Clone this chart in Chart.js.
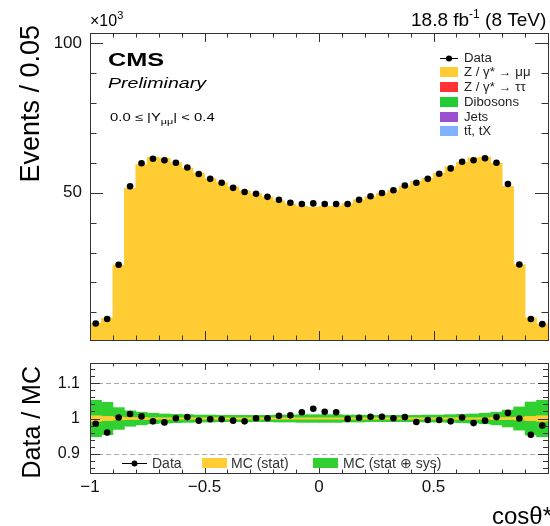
<!DOCTYPE html>
<html>
<head>
<meta charset="utf-8">
<script src="https://cdn.jsdelivr.net/npm/chart.js@4.4.0/dist/chart.umd.min.js"></script>
<style>
  html, body { margin: 0; padding: 0; background: #fff; overflow: hidden; }
  #wrap { position: relative; width: 550px; height: 526px; overflow: hidden; }
  #main { position: absolute; left: 0; top: 0; }
  #ratio { position: absolute; left: 0; top: 350px; }
</style>
</head>
<body>
<div id="wrap">
  <canvas id="main" width="552" height="350"></canvas>
  <canvas id="ratio" width="552" height="176"></canvas>
</div>
<script>
// bin centres of cos theta*, width 0.05
const binCenters = [
  -0.975, -0.925, -0.875, -0.825, -0.775, -0.725, -0.675, -0.625, -0.575, -0.525,
  -0.475, -0.425, -0.375, -0.325, -0.275, -0.225, -0.175, -0.125, -0.075, -0.025,
  0.025, 0.075, 0.125, 0.175, 0.225, 0.275, 0.325, 0.375, 0.425, 0.475,
  0.525, 0.575, 0.625, 0.675, 0.725, 0.775, 0.825, 0.875, 0.925, 0.975
];
// events (x10^3)
const dataEvents = [
  6.3, 7.8, 25.9, 52.1, 59.8, 61.3, 60.8, 60.0, 58.4, 56.2,
  54.6, 53.3, 51.6, 50.2, 49.6, 48.6, 47.6, 46.6, 46.2, 46.4,
  46.2, 46.2, 46.2, 47.6, 48.8, 49.9, 50.8, 52.4, 53.3, 54.6,
  56.3, 58.1, 60.3, 60.8, 61.5, 60.0, 52.9, 26.0, 7.8, 6.1
];
const mcEvents = [
  6.4, 8.1, 25.8, 51.4, 59.4, 61.8, 61.5, 60.0, 58.2, 56.5,
  54.7, 53.4, 51.9, 50.6, 49.6, 48.6, 47.3, 46.2, 45.4, 45.1,
  45.4, 45.4, 46.3, 47.6, 48.6, 49.7, 50.7, 52.2, 53.8, 54.8,
  56.5, 58.6, 60.1, 61.6, 61.9, 59.8, 52.1, 26.0, 8.2, 6.2
];
const ratioValues = [
  0.985, 0.960, 1.003, 1.013, 1.006, 0.992, 0.989, 1.001, 1.004, 0.994,
  0.998, 0.998, 0.994, 0.992, 1.001, 1.001, 1.008, 1.009, 1.018, 1.028,
  1.019, 1.018, 0.999, 1.002, 1.005, 1.005, 1.001, 1.004, 0.990, 0.996,
  0.996, 0.992, 1.003, 0.987, 0.994, 1.004, 1.016, 1.000, 0.954, 0.980
];
// half widths of the MC uncertainty bands
const statBand = [
  0.008, 0.006, 0.004, 0.003, 0.003, 0.002, 0.002, 0.002, 0.002, 0.002,
  0.002, 0.002, 0.002, 0.002, 0.002, 0.002, 0.002, 0.002, 0.002, 0.002,
  0.002, 0.002, 0.002, 0.002, 0.002, 0.002, 0.002, 0.002, 0.002, 0.002,
  0.002, 0.002, 0.002, 0.002, 0.002, 0.003, 0.003, 0.004, 0.006, 0.008
];
const systBand = [
  0.052, 0.046, 0.031, 0.022, 0.018, 0.015, 0.013, 0.012, 0.011, 0.010,
  0.010, 0.009, 0.009, 0.009, 0.009, 0.009, 0.010, 0.010, 0.011, 0.011,
  0.011, 0.011, 0.010, 0.010, 0.009, 0.009, 0.009, 0.009, 0.009, 0.010,
  0.010, 0.011, 0.012, 0.013, 0.015, 0.018, 0.024, 0.033, 0.047, 0.052
];
const mainYTicks = [50, 100];
const ratioYTicks = [0.9, 1, 1.1];
const ratioXTicks = [-1, -0.5, 0, 0.5];
const legendLabels = ['Data', 'Z / γ* → μμ', 'Z / γ* → ττ', 'Dibosons', 'Jets', 'tt̄, tX'];
const legendColors = [null, '#ffcc33', '#ff3333', '#22cc33', '#9b50d0', '#80b3ff'];

const FF = '"Liberation Sans", Arial, Helvetica, sans-serif';
const YELLOW = '#ffcc33';
const GREEN = '#2fd02f';
const FRAME = '#333';

// draws the box round the plot and the inward pointing ticks
function drawFrame(chart, t) {
  const { ctx, chartArea: a, scales: { x, y } } = chart;
  ctx.save();
  ctx.strokeStyle = FRAME;
  ctx.lineWidth = 1;
  ctx.beginPath();
  for (let k = -10; k <= 10; k++) {
    const px = Math.round(x.getPixelForValue(k / 10)) + 0.5;
    const len = k % 5 === 0 ? t.xMaj : t.xMin;
    ctx.moveTo(px, a.bottom); ctx.lineTo(px, a.bottom - len);
    ctx.moveTo(px, a.top); ctx.lineTo(px, a.top + len);
  }
  for (const tk of t.yTicks) {
    const py = Math.round(y.getPixelForValue(tk.v)) + 0.5;
    if (py < a.top || py > a.bottom) continue;
    const len = tk.major ? t.yMaj : t.yMin;
    ctx.moveTo(a.left, py); ctx.lineTo(a.left + len, py);
    ctx.moveTo(a.right, py); ctx.lineTo(a.right - len, py);
  }
  ctx.stroke();
  ctx.strokeRect(Math.round(a.left) + 0.5, Math.round(a.top) + 0.5,
    Math.round(a.right - a.left), Math.round(a.bottom - a.top));
  ctx.restore();
}

function stretchText(ctx, txt, x, y, font, sx) {
  ctx.save();
  ctx.font = font;
  ctx.translate(x, y);
  ctx.scale(sx, 1);
  ctx.fillText(txt, 0, 0);
  const w = ctx.measureText(txt).width * sx;
  ctx.restore();
  return w;
}

// keep the plot box where it is: no extra room for the tick labels
function fixBox(s, w, h) {
  if (w !== undefined) s.width = w;
  if (h !== undefined) s.height = h;
  s.paddingTop = 0; s.paddingBottom = 0;
  s.paddingLeft = 0; s.paddingRight = 0;
}

const mainYMinor = [];
for (let k = 1; k <= 10; k++) mainYMinor.push({ v: k * 10, major: k % 5 === 0 });

const mainDecor = {
  id: 'mainDecor',
  afterDatasetsDraw(chart) {
    drawFrame(chart, { xMaj: 9, xMin: 4.5, yMaj: 13, yMin: 6.5, yTicks: mainYMinor });
  },
  afterDraw(chart) {
    const ctx = chart.ctx;
    ctx.save();
    ctx.fillStyle = '#000';
    ctx.textBaseline = 'alphabetic';
    ctx.textAlign = 'left';
    stretchText(ctx, 'CMS', 108, 66, 'bold 19px ' + FF, 1.33);
    stretchText(ctx, 'Preliminary', 108, 88, 'italic 14px ' + FF, 1.4);
    let xx = 110;
    xx += stretchText(ctx, '0.0 ≤ |Y', xx, 121, '11px ' + FF, 1.35);
    xx += stretchText(ctx, 'μμ', xx, 124, '8px ' + FF, 1.35);
    stretchText(ctx, '| < 0.4', xx, 121, '11px ' + FF, 1.35);

    // x10^3
    ctx.font = '16px ' + FF;
    ctx.fillText('×10', 90, 26);
    const w10 = ctx.measureText('×10').width;
    ctx.font = '11px ' + FF;
    ctx.fillText('3', 90 + w10, 19);

    // luminosity
    let lx = 411;
    ctx.font = '19px ' + FF;
    ctx.fillText('18.8 fb', lx, 26);
    lx += ctx.measureText('18.8 fb').width;
    ctx.font = '12px ' + FF;
    ctx.fillText('-1', lx, 18);
    lx += ctx.measureText('-1').width;
    ctx.font = '19px ' + FF;
    ctx.fillText(' (8 TeV)', lx, 26);

    // y title
    ctx.save();
    ctx.translate(39, 25);
    ctx.rotate(-Math.PI / 2);
    ctx.textAlign = 'right';
    ctx.font = '27px ' + FF;
    ctx.fillText('Events / 0.05', 0, 0);
    ctx.restore();

    // legend
    const rows = [58, 72, 87, 102, 117, 131];
    ctx.textBaseline = 'middle';
    legendLabels.forEach((lab, i) => {
      const ry = rows[i];
      if (legendColors[i] === null) {
        ctx.strokeStyle = '#000';
        ctx.beginPath();
        ctx.moveTo(440, ry + 0.5); ctx.lineTo(458, ry + 0.5);
        ctx.stroke();
        ctx.beginPath();
        ctx.arc(449, ry + 0.5, 3, 0, Math.PI * 2);
        ctx.fillStyle = '#000';
        ctx.fill();
      } else {
        ctx.fillStyle = legendColors[i];
        ctx.fillRect(440, ry - 5, 18, 10);
      }
      ctx.fillStyle = '#222';
      stretchText(ctx, lab, 464, ry + 1, '12px ' + FF, 1.1);
    });
    ctx.restore();
  }
};

const ratioYMinor = [];
for (let k = 43; k <= 57; k++) ratioYMinor.push({ v: k * 0.02, major: k % 5 === 0 });

const ratioDecor = {
  id: 'ratioDecor',
  beforeDatasetsDraw(chart) {
    const { ctx, chartArea: a, scales: { y } } = chart;
    ctx.save();
    ctx.strokeStyle = '#aaa';
    ctx.setLineDash([5, 3]);
    ctx.lineWidth = 1;
    ctx.beginPath();
    for (const v of ratioYTicks) {
      const py = Math.round(y.getPixelForValue(v)) + 0.5;
      ctx.moveTo(a.left, py); ctx.lineTo(a.right, py);
    }
    ctx.stroke();
    ctx.restore();
  },
  afterDatasetsDraw(chart) {
    drawFrame(chart, { xMaj: 7, xMin: 3.5, yMaj: 10, yMin: 5, yTicks: ratioYMinor });
  },
  afterDraw(chart) {
    const ctx = chart.ctx;
    ctx.save();
    // legend inside the ratio pad
    const ly = 113;
    ctx.strokeStyle = '#000';
    ctx.beginPath();
    ctx.moveTo(122, ly + 0.5); ctx.lineTo(147, ly + 0.5);
    ctx.stroke();
    ctx.beginPath();
    ctx.arc(134.5, ly + 0.5, 3, 0, Math.PI * 2);
    ctx.fillStyle = '#000';
    ctx.fill();
    ctx.fillStyle = YELLOW;
    ctx.fillRect(202, ly - 5, 25, 10);
    ctx.fillStyle = GREEN;
    ctx.fillRect(313, ly - 5, 25, 10);
    ctx.fillStyle = '#333';
    ctx.font = '14px ' + FF;
    ctx.textBaseline = 'middle';
    ctx.fillText('Data', 152, ly + 1);
    ctx.fillText('MC (stat)', 231, ly + 1);
    ctx.fillText('MC (stat ⊕ sys)', 343, ly + 1);

    // axis titles
    ctx.fillStyle = '#000';
    ctx.textBaseline = 'alphabetic';
    ctx.save();
    ctx.translate(40, 16);
    ctx.rotate(-Math.PI / 2);
    ctx.textAlign = 'right';
    ctx.font = '25px ' + FF;
    ctx.fillText('Data / MC', 0, 0);
    ctx.restore();
    ctx.textAlign = 'right';
    ctx.font = '24px ' + FF;
    ctx.fillText('cosθ*', 552, 174);
    ctx.restore();
  }
};

const tickFont = { family: FF, size: 17 };

new Chart(document.getElementById('main'), {
  type: 'bar',
  data: {
    datasets: [
      {
        type: 'line',
        label: 'Data',
        data: binCenters.map((x, i) => ({ x, y: dataEvents[i] })),
        showLine: false,
        pointRadius: 3.3,
        pointBackgroundColor: '#000',
        pointBorderWidth: 0,
        order: 0
      },
      {
        label: 'Z / γ* → μμ',
        data: binCenters.map((x, i) => ({ x, y: mcEvents[i] })),
        backgroundColor: YELLOW,
        borderWidth: 0,
        grouped: false,
        barPercentage: 1,
        categoryPercentage: 1,
        order: 1
      }
    ]
  },
  options: {
    responsive: false,
    animation: false,
    devicePixelRatio: 1,
    layout: { padding: { top: 33, right: 1, bottom: 10, left: 0 } },
    plugins: { legend: { display: false }, tooltip: { enabled: false } },
    scales: {
      x: { type: 'linear', min: -1, max: 1, offset: false, display: false },
      y: {
        min: 0.8, max: 103.3,
        grid: { display: false, drawTicks: false },
        border: { display: false },
        ticks: { font: tickFont, color: '#111', padding: 8 },
        afterBuildTicks: s => { s.ticks = mainYTicks.map(v => ({ value: v })); },
        afterFit: s => fixBox(s, 90)
      }
    }
  },
  plugins: [mainDecor]
});

new Chart(document.getElementById('ratio'), {
  type: 'bar',
  data: {
    datasets: [
      {
        type: 'line',
        label: 'Data',
        data: binCenters.map((x, i) => ({ x, y: ratioValues[i] })),
        showLine: false,
        pointRadius: 3.3,
        pointBackgroundColor: '#000',
        pointBorderWidth: 0,
        order: 0
      },
      {
        label: 'MC (stat)',
        data: binCenters.map((x, i) => ({ x, y: [1 - statBand[i], 1 + statBand[i]] })),
        backgroundColor: YELLOW,
        borderWidth: 0,
        grouped: false,
        barPercentage: 1,
        categoryPercentage: 1,
        order: 1
      },
      {
        label: 'MC (stat ⊕ sys)',
        data: binCenters.map((x, i) => ({ x, y: [1 - systBand[i], 1 + systBand[i]] })),
        backgroundColor: GREEN,
        borderWidth: 0,
        grouped: false,
        barPercentage: 1,
        categoryPercentage: 1,
        order: 2
      }
    ]
  },
  options: {
    responsive: false,
    animation: false,
    devicePixelRatio: 1,
    layout: { padding: { top: 13, right: 1, bottom: 0, left: 0 } },
    plugins: { legend: { display: false }, tooltip: { enabled: false } },
    scales: {
      x: {
        type: 'linear', min: -1, max: 1, offset: false,
        grid: { display: false, drawTicks: false },
        border: { display: false },
        ticks: {
          font: tickFont, color: '#111', padding: 4, maxRotation: 0, autoSkip: false,
          callback: v => String(v).replace('-', '−')
        },
        afterBuildTicks: s => { s.ticks = ratioXTicks.map(v => ({ value: v })); },
        afterFit: s => fixBox(s, undefined, 53)
      },
      y: {
        min: 0.845, max: 1.158,
        grid: { display: false, drawTicks: false },
        border: { display: false },
        ticks: {
          font: { family: FF, size: 16 }, color: '#111', padding: 10,
          callback: v => (v === 1 ? '1' : v.toFixed(1))
        },
        afterBuildTicks: s => { s.ticks = ratioYTicks.map(v => ({ value: v })); },
        afterFit: s => fixBox(s, 90)
      }
    }
  },
  plugins: [ratioDecor]
});
</script>
</body>
</html>
